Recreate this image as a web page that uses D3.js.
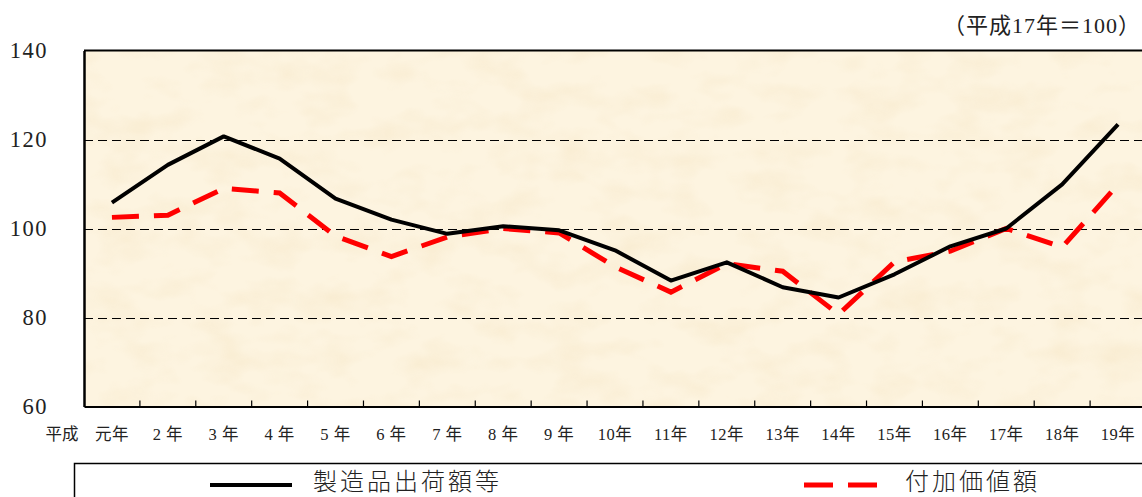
<!DOCTYPE html>
<html lang="ja">
<head>
<meta charset="utf-8">
<script src="https://cdn.jsdelivr.net/npm/d3@7"></script>
<style>
  html, body { margin: 0; padding: 0; background: #fff; }
  svg { display: block; }
  .serif { font-family: "Liberation Serif", "DejaVu Serif", "Noto Sans CJK JP", serif; }
  .gothic { font-family: "Noto Sans CJK JP", "Noto Sans", sans-serif; }
</style>
</head>
<body>
<svg id="chart" width="1142" height="497"></svg>
<script>
// 年次（平成元年〜19年）
const years = ["元年", "2 年", "3 年", "4 年", "5 年", "6 年", "7 年", "8 年", "9 年",
  "10年", "11年", "12年", "13年", "14年", "15年", "16年", "17年", "18年", "19年"];

// 製造品出荷額等 指数（平成17年＝100）
const shipments = [105.8, 114.3, 120.7, 115.7, 106.7, 102.0, 98.8, 100.5, 99.6,
  95.1, 88.3, 92.4, 86.8, 84.5, 89.7, 96.0, 100.0, 109.9, 123.4];

// 付加価値額 指数（平成17年＝100）
const valueAdded = [102.5, 103.0, 109.0, 108.0, 98.3, 93.7, 98.1, 100.0, 99.0,
  91.4, 85.7, 92.1, 90.4, 80.7, 92.5, 94.9, 100.0, 95.8, 109.9];

const yTicks = [60, 80, 100, 120, 140];
const gridValues = [80, 100, 120];

const svg = d3.select("#chart");
const plotL = 84, plotR = 1146, plotT = 50.5, plotB = 406.5;

const x = d3.scaleBand().domain(years).range([plotL, plotR]).padding(0);
const y = d3.scaleLinear().domain([60, 140]).range([plotB, plotT]);

// 背景テクスチャ（淡い紙の風合い）
const defs = svg.append("defs");
const f = defs.append("filter").attr("id", "paper")
  .attr("x", 0).attr("y", 0).attr("width", "100%").attr("height", "100%")
  .attr("color-interpolation-filters", "sRGB");
f.append("feTurbulence").attr("type", "fractalNoise")
  .attr("baseFrequency", "0.02 0.035").attr("numOctaves", 3).attr("seed", 7).attr("result", "n");
f.append("feColorMatrix").attr("in", "n").attr("type", "matrix")
  .attr("values", "0 0 0 0 0.93  0 0 0 0 0.84  0 0 0 0 0.66  0 0 0 -1.4 0.8");

svg.append("rect")
  .attr("x", plotL).attr("y", plotT).attr("width", plotR - plotL).attr("height", plotB - plotT)
  .attr("fill", "#fdf4e0");
svg.append("rect")
  .attr("x", plotL).attr("y", plotT).attr("width", plotR - plotL).attr("height", plotB - plotT)
  .attr("fill", "#fff").attr("filter", "url(#paper)").attr("opacity", 0.35);

// 補助線
svg.append("g").selectAll("line").data(gridValues).join("line")
  .attr("x1", plotL).attr("x2", plotR)
  .attr("y1", d => Math.round(y(d)) + 0.5).attr("y2", d => Math.round(y(d)) + 0.5)
  .attr("stroke", "#000").attr("stroke-width", 1).attr("stroke-dasharray", "9,5");

// 枠線
svg.append("line").attr("x1", plotL).attr("x2", plotR).attr("y1", plotT).attr("y2", plotT)
  .attr("stroke", "#000").attr("stroke-width", 2);

// X軸
const xAxis = d3.axisBottom(x).tickSize(0).tickFormat(d => d);
const gx = svg.append("g").attr("transform", `translate(0,${plotB})`).call(xAxis);
gx.select(".domain").attr("stroke", "#000").attr("stroke-width", 2);
gx.selectAll("text").attr("class", "serif").attr("font-size", 16.5).attr("fill", "#222")
  .attr("letter-spacing", 0.5).attr("y", 28).attr("dy", "0.35em");
// 区切りの目盛（内向き）
svg.append("g").selectAll("line").data(years.slice(1)).join("line")
  .attr("x1", d => x(d)).attr("x2", d => x(d))
  .attr("y1", plotB).attr("y2", plotB - 6)
  .attr("stroke", "#000").attr("stroke-width", 1.2);

svg.append("text").attr("class", "serif")
  .attr("x", 62).attr("y", plotB + 28).attr("dy", "0.35em")
  .attr("text-anchor", "middle").attr("font-size", 16.5).attr("fill", "#222").text("平成");

// Y軸
const yAxis = d3.axisLeft(y).tickValues(yTicks).tickSize(0).tickPadding(36);
const gy = svg.append("g").attr("transform", `translate(${plotL},0)`).call(yAxis);
gy.select(".domain").attr("stroke", "#000").attr("stroke-width", 2.5);
gy.selectAll("text").attr("class", "serif").attr("font-size", 22.5)
  .attr("letter-spacing", 1.5).attr("fill", "#222");

// 系列
const line = d3.line().x((d, i) => x(years[i]) + x.bandwidth() / 2).y(d => y(d));

svg.append("path").datum(valueAdded)
  .attr("d", line).attr("fill", "none")
  .attr("stroke", "#ff0000").attr("stroke-width", 5)
  .attr("stroke-dasharray", "27,15");

svg.append("path").datum(shipments)
  .attr("d", line).attr("fill", "none")
  .attr("stroke", "#000").attr("stroke-width", 4).attr("stroke-linejoin", "round");

// 単位表記
svg.append("text").attr("class", "serif")
  .attr("x", 1141).attr("y", 25).attr("dy", "0.35em")
  .attr("text-anchor", "end").attr("font-size", 22).attr("letter-spacing", 1).attr("fill", "#222")
  .text("（平成17年＝100）");

// 凡例
const legend = svg.append("g");
legend.append("rect")
  .attr("x", 74.5).attr("y", 463.5).attr("width", 1100).attr("height", 60)
  .attr("fill", "#fff").attr("stroke", "#000").attr("stroke-width", 1.5);

const legendItems = [
  { name: "製造品出荷額等", color: "#000", width: 4, dash: null, x1: 210, x2: 292, tx: 313 },
  { name: "付加価値額", color: "#ff0000", width: 5, dash: "29,15", x1: 804, x2: 877, tx: 905 }
];
legendItems.forEach(it => {
  legend.append("line")
    .attr("x1", it.x1).attr("x2", it.x2).attr("y1", 485).attr("y2", 485)
    .attr("stroke", it.color).attr("stroke-width", it.width)
    .attr("stroke-dasharray", it.dash);
  legend.append("text").attr("class", "gothic")
    .attr("x", it.tx).attr("y", 482).attr("dy", "0.35em")
    .attr("font-size", 24).attr("font-weight", 300).attr("letter-spacing", 3)
    .attr("fill", "#222").text(it.name);
});
</script>
</body>
</html>
